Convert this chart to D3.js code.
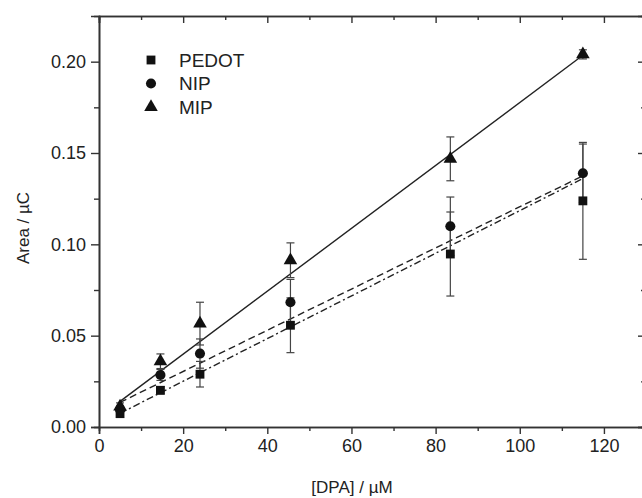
<!DOCTYPE html>
<html>
<head>
<meta charset="utf-8">
<script src="https://cdn.jsdelivr.net/npm/d3@7"></script>
<style>
  body { margin: 0; background: #fff; }
  svg { display: block; }
  text { font-family: "Liberation Sans", Arial, sans-serif; fill: #222; }
</style>
</head>
<body>
<div id="vis"></div>
<script>

// concentrations, uM
var conc = [5, 14.6, 24, 45.5, 83.5, 115];

// peak area, uC
var pedot = [0.0073, 0.0201, 0.0289, 0.0557, 0.0947, 0.1238];
var pedotErr = [0.002, 0.002, 0.007, 0.015, 0.023, 0.032];

var nip = [0.0095, 0.0285, 0.0402, 0.0683, 0.1099, 0.1389];
var nipErr = [0.002, 0.003, 0.008, 0.0125, 0.016, 0.016];

var mip = [0.0112, 0.036, 0.0566, 0.0913, 0.1468, 0.204];
var mipErr = [0.002, 0.004, 0.0117, 0.0095, 0.012, 0.0025];

// fitted lines, read at x = 5 and x = 115
var fitX = [5, 115];
var pedotFit = [0.0075, 0.136];
var nipFit = [0.0135, 0.1375];
var mipFit = [0.014, 0.2035];

var xTicks = [0, 20, 40, 60, 80, 100, 120];
var yTicks = [0.00, 0.05, 0.10, 0.15, 0.20];

var seriesNames = ["PEDOT", "NIP", "MIP"];

function drawChart() {

	var width = 642, height = 498;
	var margin = {left: 99, top: 16, right: -4, bottom: 71};

	var svg = d3.select("#vis").append("svg")
		.attr("width", width)
		.attr("height", height);

	var xScale = d3.scaleLinear()
		.domain([0, 130])
		.range([margin.left, width - margin.right]);

	var yScale = d3.scaleLinear()
		.domain([0, 0.225])
		.range([height - margin.bottom, margin.top]);

	var axisColor = "#333";

	// bottom axis
	svg.append("g")
		.attr("transform", "translate(0," + yScale(0) + ")")
		.call(d3.axisBottom(xScale).tickValues(xTicks).tickSize(7).tickPadding(5).tickFormat(d3.format("d")));

	svg.append("g")
		.attr("transform", "translate(0," + yScale(0) + ")")
		.call(d3.axisBottom(xScale).tickValues(d3.range(10, 130, 20)).tickSize(4).tickFormat(""));

	// top axis, ticks inward
	svg.append("g")
		.attr("transform", "translate(0," + yScale(0.225) + ")")
		.call(d3.axisTop(xScale).tickValues(xTicks).tickSize(-7).tickFormat(""));

	svg.append("g")
		.attr("transform", "translate(0," + yScale(0.225) + ")")
		.call(d3.axisTop(xScale).tickValues(d3.range(10, 130, 20)).tickSize(-4).tickFormat(""));

	// left axis
	svg.append("g")
		.attr("transform", "translate(" + xScale(0) + ",0)")
		.call(d3.axisLeft(yScale).tickValues(yTicks).tickSize(8).tickPadding(5).tickFormat(d3.format(".2f")));

	svg.append("g")
		.attr("transform", "translate(" + xScale(0) + ",0)")
		.call(d3.axisLeft(yScale).tickValues(d3.range(0.025, 0.225, 0.05)).tickSize(5).tickFormat(""));

	// right axis, ticks inward
	svg.append("g")
		.attr("transform", "translate(" + xScale(130) + ",0)")
		.call(d3.axisRight(yScale).tickValues(yTicks).tickSize(-8).tickFormat(""));

	svg.append("g")
		.attr("transform", "translate(" + xScale(130) + ",0)")
		.call(d3.axisRight(yScale).tickValues(d3.range(0.025, 0.225, 0.05)).tickSize(-5).tickFormat(""));

	svg.selectAll(".domain").attr("stroke", axisColor).attr("stroke-width", 1.6);
	svg.selectAll(".tick line").attr("stroke", axisColor).attr("stroke-width", 1.4);
	svg.selectAll(".tick text").style("font-size", "18px").attr("fill", "#222");

	// axis titles
	svg.append("text")
		.attr("x", 352)
		.attr("y", 493)
		.attr("text-anchor", "middle")
		.style("font-size", "17px")
		.text("[DPA] / µM");

	svg.append("text")
		.attr("transform", "translate(29,228) rotate(-90)")
		.attr("text-anchor", "middle")
		.style("font-size", "17px")
		.text("Area / µC");

	// fit lines
	var line = d3.line()
		.x(function (d, i) { return xScale(fitX[i]); })
		.y(function (d) { return yScale(d); });

	var plot = svg.append("g");

	plot.append("path").datum(mipFit)
		.attr("d", line)
		.attr("fill", "none")
		.attr("stroke", "#222")
		.attr("stroke-width", 1.4);

	plot.append("path").datum(nipFit)
		.attr("d", line)
		.attr("fill", "none")
		.attr("stroke", "#222")
		.attr("stroke-width", 1.4)
		.attr("stroke-dasharray", "7,4");

	plot.append("path").datum(pedotFit)
		.attr("d", line)
		.attr("fill", "none")
		.attr("stroke", "#222")
		.attr("stroke-width", 1.4)
		.attr("stroke-dasharray", "7,3,2,3");

	var series = [
		{name: "PEDOT", vals: pedot, err: pedotErr, symbol: d3.symbolSquare, size: 78},
		{name: "NIP", vals: nip, err: nipErr, symbol: d3.symbolCircle, size: 80},
		{name: "MIP", vals: mip, err: mipErr, symbol: d3.symbolTriangle, size: 80}
	];

	// error bars
	series.forEach(function (s) {
		var g = plot.append("g");
		s.vals.forEach(function (v, i) {
			var cx = xScale(conc[i]);
			var lo = yScale(v - s.err[i]), hi = yScale(v + s.err[i]);
			g.append("line")
				.attr("x1", cx).attr("x2", cx)
				.attr("y1", lo).attr("y2", hi)
				.attr("stroke", "#444").attr("stroke-width", 1.2);
			[lo, hi].forEach(function (yy) {
				g.append("line")
					.attr("x1", cx - 4).attr("x2", cx + 4)
					.attr("y1", yy).attr("y2", yy)
					.attr("stroke", "#444").attr("stroke-width", 1.2);
			});
		});
	});

	// markers
	series.forEach(function (s) {
		plot.append("g").selectAll("path")
			.data(s.vals)
			.enter()
			.append("path")
			.attr("transform", function (d, i) { return "translate(" + xScale(conc[i]) + "," + yScale(d) + ")"; })
			.attr("d", d3.symbol().type(s.symbol).size(s.size))
			.attr("fill", "#111");
	});

	// legend
	var legend = svg.append("g");
	series.forEach(function (s, i) {
		var ly = 60 + i * 23.5;
		legend.append("path")
			.attr("transform", "translate(151," + ly + ")")
			.attr("d", d3.symbol().type(s.symbol).size(s.size))
			.attr("fill", "#111");
		legend.append("text")
			.attr("x", 179)
			.attr("y", ly + 6.5)
			.style("font-size", "19px")
			.text(seriesNames[i]);
	});
}

drawChart();

</script>
</body>
</html>
